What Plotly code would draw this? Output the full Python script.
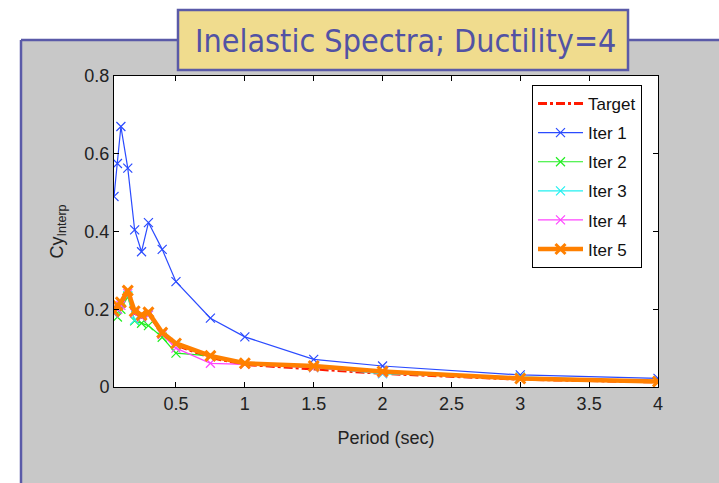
import plotly.graph_objects as go

# ---- data ----
periods = [0.05, 0.075, 0.1, 0.15, 0.2, 0.25, 0.3, 0.4, 0.5, 0.75, 1.0, 1.5, 2.0, 3.0, 4.0]
target = [0.19, 0.205, 0.215, 0.245, 0.19, 0.18, 0.188, 0.138, 0.108, 0.076, 0.058, 0.047, 0.035, 0.02, 0.013]
iter1 = [0.49, 0.575, 0.67, 0.563, 0.404, 0.348, 0.423, 0.354, 0.271, 0.177, 0.129, 0.071, 0.054, 0.031, 0.022]
iter2 = [0.19, 0.18, 0.2, 0.232, 0.17, 0.164, 0.158, 0.128, 0.087, 0.08, 0.06, 0.05, 0.036, 0.022, 0.013]
iter3 = [0.19, 0.2, 0.215, 0.235, 0.172, 0.18, 0.185, 0.138, 0.108, 0.078, 0.06, 0.052, 0.034, 0.026, 0.015]
iter4 = [0.19, 0.2, 0.21, 0.24, 0.19, 0.18, 0.185, 0.135, 0.1, 0.061, 0.058, 0.05, 0.036, 0.022, 0.014]
iter5 = [0.195, 0.21, 0.218, 0.248, 0.195, 0.185, 0.192, 0.14, 0.112, 0.08, 0.061, 0.054, 0.04, 0.022, 0.014]

x_ticks = [0.5, 1, 1.5, 2, 2.5, 3, 3.5, 4]
x_ticklabels = ["0.5", "1", "1.5", "2", "2.5", "3", "3.5", "4"]
y_ticks = [0, 0.2, 0.4, 0.6, 0.8]
y_ticklabels = ["0", "0.2", "0.4", "0.6", "0.8"]

title_text = "Inelastic Spectra; Ductility=4"

W, H = 719, 483
L, R, T, B = 114, 658, 76, 387  # plot area in pixels

def px(xp):
    return (xp - L) / (R - L)

def py(yp):
    return (B - yp) / (B - T)

NARROW = "Liberation Sans Narrow, Arial Narrow, Liberation Sans, Arial, sans-serif"
BLUE_DECOR = "#5a5aa8"

fig = go.Figure()

fig.add_trace(go.Scatter(x=periods, y=target, name="Target", mode="lines",
                         line=dict(color="#ff1a00", width=3, dash="dashdot"),
                         legendgroup="a"))
fig.add_trace(go.Scatter(x=periods, y=iter1, name="Iter 1", mode="lines+markers",
                         line=dict(color="#2b4bff", width=1.2),
                         marker=dict(symbol="x-thin", size=9, line=dict(width=1.2, color="#2b4bff")),
                         legendgroup="b"))
fig.add_trace(go.Scatter(x=periods, y=iter2, name="Iter 2", mode="lines+markers",
                         line=dict(color="#22ee22", width=1.2),
                         marker=dict(symbol="x-thin", size=9, line=dict(width=1.2, color="#22ee22")),
                         legendgroup="c"))
fig.add_trace(go.Scatter(x=periods, y=iter3, name="Iter 3", mode="lines+markers",
                         line=dict(color="#22f0f0", width=1.2),
                         marker=dict(symbol="x-thin", size=9, line=dict(width=1.2, color="#22f0f0")),
                         legendgroup="d"))
fig.add_trace(go.Scatter(x=periods, y=iter4, name="Iter 4", mode="lines+markers",
                         line=dict(color="#ff44ff", width=1.2),
                         marker=dict(symbol="x-thin", size=9, line=dict(width=1.2, color="#ff44ff")),
                         legendgroup="e"))
fig.add_trace(go.Scatter(x=periods, y=iter5, name="Iter 5", mode="lines+markers",
                         line=dict(color="#ff8000", width=4.5),
                         marker=dict(symbol="x-thin", size=10, line=dict(width=3, color="#ff8000")),
                         legendgroup="f"))

shapes = [
    # gray slide panel
    dict(type="rect", xref="paper", yref="paper", x0=px(21), x1=px(740), y0=py(40), y1=py(500),
         fillcolor="#c8c8c8", line=dict(width=0), layer="below"),
    # white plot area
    dict(type="rect", xref="paper", yref="paper", x0=0, x1=1, y0=0, y1=1,
         fillcolor="white", line=dict(width=0), layer="below"),
    # blue borders of panel
    dict(type="line", xref="paper", yref="paper", x0=px(21), x1=px(740), y0=py(40), y1=py(40),
         line=dict(color=BLUE_DECOR, width=2.5), layer="above"),
    dict(type="line", xref="paper", yref="paper", x0=px(21), x1=px(21), y0=py(40), y1=py(500),
         line=dict(color=BLUE_DECOR, width=2.5), layer="above"),
    # title box
    dict(type="rect", xref="paper", yref="paper", x0=px(178), x1=px(628), y0=py(70), y1=py(10),
         fillcolor="#f0dc8e", line=dict(color=BLUE_DECOR, width=2.5), layer="above"),
]

fig.update_layout(
    width=W, height=H,
    margin=dict(l=L, r=W - R, t=T, b=H - B, pad=0),
    paper_bgcolor="white",
    plot_bgcolor="white",
    shapes=shapes,
    showlegend=True,
    legend=dict(x=px(532), y=py(85), xanchor="left", yanchor="top",
                bgcolor="white", bordercolor="black", borderwidth=1,
                font=dict(family=NARROW, size=17, color="#111"),
                tracegroupgap=4, itemwidth=45),
    annotations=[dict(text=title_text, xref="paper", yref="paper", x=px(405), y=py(41),
                      showarrow=False, xanchor="center", yanchor="middle",
                      font=dict(family="DejaVu Sans Condensed, DejaVu Sans, sans-serif", size=32, color="#5252a4"))],
)

fig.update_xaxes(range=[0.05, 4], tickvals=x_ticks, ticktext=x_ticklabels,
                 showgrid=False, zeroline=False, showline=True, linecolor="black", linewidth=1,
                 mirror="ticks", ticks="inside", ticklen=5, tickcolor="black",
                 tickfont=dict(family=NARROW, size=18, color="#222"),
                 title=dict(text="Period (sec)", font=dict(family=NARROW, size=18, color="#222"), standoff=18))
fig.update_yaxes(range=[0, 0.8], tickvals=y_ticks, ticktext=y_ticklabels,
                 showgrid=False, zeroline=False, showline=True, linecolor="black", linewidth=1,
                 mirror="ticks", ticks="inside", ticklen=5, tickcolor="black",
                 tickfont=dict(family=NARROW, size=18, color="#222"),
                 title=dict(text="Cy<sub>Interp</sub>", font=dict(family=NARROW, size=18, color="#222"), standoff=16))

fig.write_html("out.html", config={"displayModeBar": False},
               post_script="document.body.style.margin='0';document.body.style.overflow='hidden';")
